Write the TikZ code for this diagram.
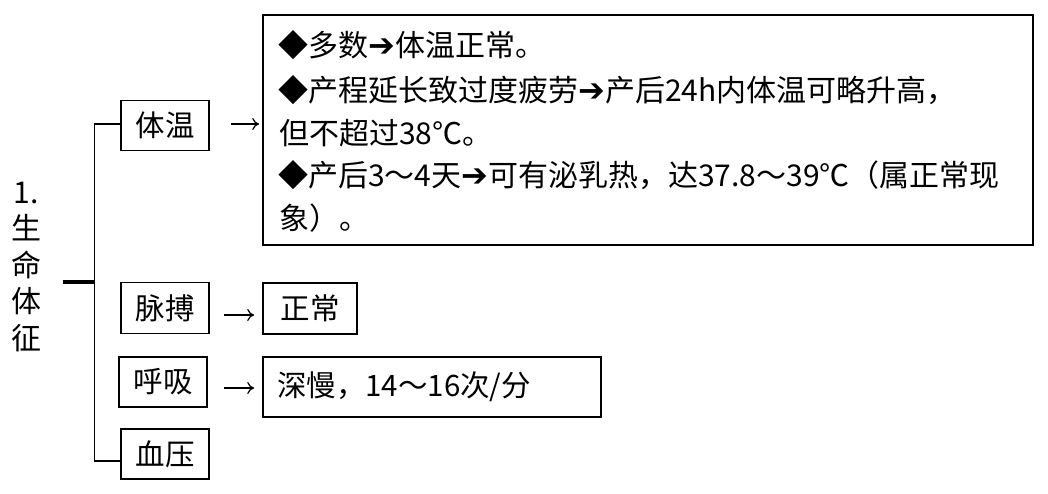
\documentclass[tikz,border=0pt]{standalone}
\usepackage{fontspec}
\setmainfont{Noto Sans CJK SC}
\newfontfamily\dv{DejaVu Sans}
\usetikzlibrary{calc,arrows.meta}
\tikzset{
  box/.style={draw, line width=1.6pt, inner sep=0pt, font=\fontsize{29.5}{34}\selectfont},
  txt/.style={anchor=west, inner sep=0pt, font=\fontsize{30}{34}\selectfont},
  conn/.style={line width=1.4pt},
  arr/.style={line width=1.2pt, -{To[length=7pt,width=12pt]}},
}
\newcommand{\ar}{{\dv\fontsize{32}{34}\selectfont ➔}}
\begin{document}
\begin{tikzpicture}[x=1pt,y=-1pt]
\useasboundingbox[fill=white] (0,0) rectangle (1048,494);
% left label
\node[inner sep=0pt, align=center, font=\fontsize{30}{36.5}\selectfont] (lab) at (26,267) {1.\\生\\命\\体\\征};
% left boxes
\node[box, minimum width=88pt, minimum height=50pt] (tw) at (165,125.5) {体温};
\node[box, minimum width=88pt, minimum height=51pt] (mb) at (165,308) {脉搏};
\node[box, minimum width=88pt, minimum height=50pt] (hx) at (163,382) {呼吸};
\node[box, minimum width=88pt, minimum height=50pt] (xy) at (165,454) {血压};
% right boxes
\node[box, minimum width=770pt, minimum height=230pt] (big) at (648,130) {};
\node[box, minimum width=94pt, minimum height=51pt] (zc) at (310,308.5) {正常};
\node[box, minimum width=338pt, minimum height=60pt, text width=310pt, align=left] (sm) at (432,387) {深慢，14～16次/分};
% text in big box
\node[txt] (l1) at (278,45) {◆多数\ar 体温正常。};
\node[txt] (l2) at (278,90) {◆产程延长致过度疲劳\ar 产后24h内体温可略升高，};
\node[txt] (l3) at (279,133) {但不超过38℃。};
\node[txt] (l4) at (278,175) {◆产后3～4天\ar 可有泌乳热，达37.8～39℃（属正常现};
\node[txt] (l5) at (279,218) {象）。};
% bracket
\draw[conn] ([yshift=1.5pt]tw.west) -- ++(-26,0) coordinate (bt) |- ([yshift=-7pt]xy.west);
\coordinate (stub) at (63,282);
\draw[line width=3.2pt] (stub) -- (stub -| bt);
% arrows
\draw[arr] ($(tw.east)+(21,-1.5)$) -- ($(big.west |- tw.east)+(-3,-1.5)$);
\draw[arr] ($(mb.east)+(14,7)$) -- ($(zc.west |- mb.east)+(-8,7)$);
\draw[arr] ($(hx.east)+(16,6)$) -- ($(sm.west |- hx.east)+(-8,6)$);
\end{tikzpicture}
\end{document}
